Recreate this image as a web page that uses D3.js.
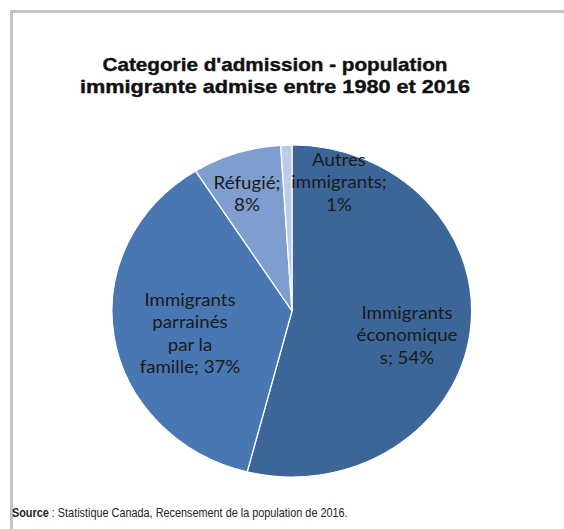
<!DOCTYPE html>
<html>
<head>
<meta charset="utf-8">
<script src="https://cdn.jsdelivr.net/npm/d3@7"></script>
<style>
  body { margin: 0; background: #fff; }
</style>
</head>
<body>
<div id="chart"></div>
<script>
// chart data
const categories = ["Immigrants économiques", "Immigrants parrainés par la famille", "Réfugié", "Autres immigrants"]
const values = [54, 37, 8, 1]
const sliceColors = ["#3d6698", "#4877b1", "#7f9ecf", "#bccbe6"]
// label lines as they wrap in the original
const labelLines = [
    ["Immigrants", "économique", "s; 54%"],
    ["Immigrants", "parrainés", "par la", "famille; 37%"],
    ["Réfugié;", "8%"],
    ["Autres", "immigrants;", "1%"]
]
const titleLines = ["Categorie d'admission - population", "immigrante admise entre 1980 et 2016"]
const titleWidths = [345, 390]

const width = 564
const height = 529
const svg = d3.select("#chart")
    .append("svg")
    .attr("width", width)
    .attr("height", height)

// frame (top and left edges visible)
svg.append("line").attr("x1", 11).attr("x2", width).attr("y1", 11.5).attr("y2", 11.5)
    .attr("stroke", "#c4c4c4").attr("stroke-width", 3)
svg.append("line").attr("x1", 11.5).attr("x2", 11.5).attr("y1", 10).attr("y2", height)
    .attr("stroke", "#c4c4c4").attr("stroke-width", 3)

// title - the original font is wider, so stretch to its measured width
svg.append("g")
    .selectAll("text")
    .data(titleLines)
    .join("text")
    .attr("x", 275)
    .attr("y", (d, i) => 71 + i * 22)
    .attr("text-anchor", "middle")
    .attr("textLength", (d, i) => titleWidths[i])
    .attr("lengthAdjust", "spacingAndGlyphs")
    .style("font-family", "'Liberation Sans', Arial, sans-serif")
    .style("font-weight", "bold")
    .style("font-size", "18.5px")
    .style("fill", "#111")
    .style("stroke", "#111")
    .style("stroke-width", 0.4)
    .text(d => d)

// pie, slightly squashed like the picture
const cx = 292, cy = 311, rx = 180, ry = 166
const pie = d3.pie().sort(null).startAngle(0).endAngle(2 * Math.PI)
const arcs = pie(values)
const arc = d3.arc().innerRadius(0).outerRadius(1)

const g = svg.append("g")
    .attr("transform", "translate(" + cx + "," + cy + ") scale(" + rx + "," + ry + ")")
g.selectAll("path")
    .data(arcs)
    .join("path")
    .attr("d", arc)
    .attr("fill", (d, i) => sliceColors[i])
    .attr("stroke", "#fff")
    .attr("stroke-width", 1.2 / 170)

// label anchors (centre of each text block, px)
const labelPos = [[407, 313], [190, 300], [247, 183], [339, 160]]
const lineH = 22.5
svg.append("g")
    .selectAll("g")
    .data(labelLines)
    .join("g")
    .each(function (lines, i) {
        d3.select(this).selectAll("text")
            .data(lines)
            .join("text")
            .attr("transform", (d, j) => "translate(" + labelPos[i][0] + "," + (labelPos[i][1] + j * lineH) + ") scale(1.1,1)")
            .attr("dy", "0.35em")
            .attr("text-anchor", "middle")
            .style("font-family", "Lato, 'Open Sans', sans-serif")
            .style("font-size", "17px")
            .style("fill", "#1a1a1a")
            .text(d => d)
    })

// source note, squeezed to the narrow face of the original
const src = svg.append("text")
    .attr("transform", "translate(12,517)")
    .style("font-family", "'Liberation Sans Narrow', 'Arial Narrow', 'Liberation Sans', sans-serif")
    .style("font-size", "13px")
    .style("fill", "#222")
src.append("tspan").style("font-weight", "bold").text("Source")
src.append("tspan").text(" : Statistique Canada, Recensement de la population de 2016.")
const srcW = src.node().getComputedTextLength()
src.attr("transform", "translate(12,517) scale(" + (336 / srcW) + ",1)")
</script>
</body>
</html>
